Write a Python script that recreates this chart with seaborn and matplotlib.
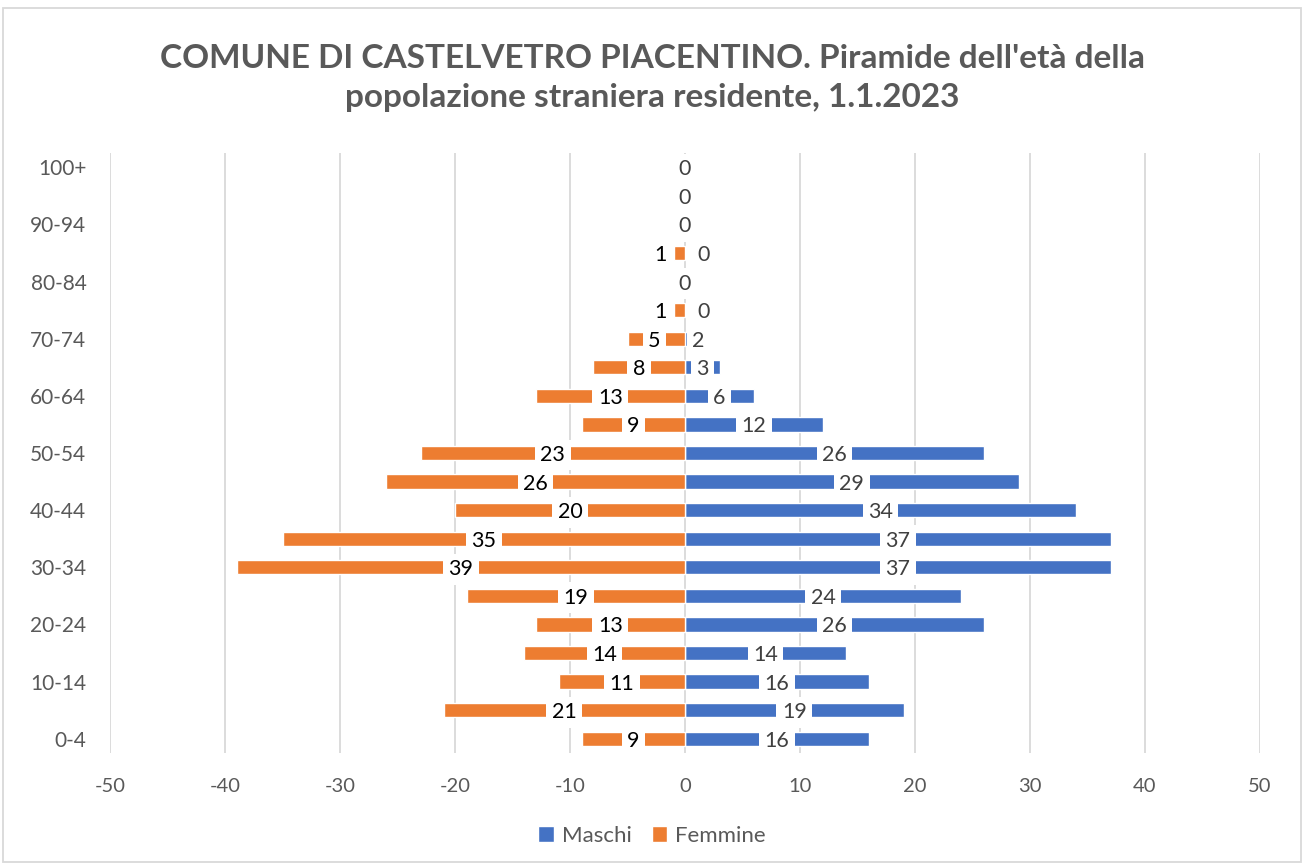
import matplotlib
matplotlib.use("Agg")
import matplotlib.pyplot as plt
import seaborn as sns
import pandas as pd
from matplotlib.patches import Rectangle, Patch

age_groups = ["0-4", "5-9", "10-14", "15-19", "20-24", "25-29", "30-34", "35-39",
              "40-44", "45-49", "50-54", "55-59", "60-64", "65-69", "70-74", "75-79",
              "80-84", "85-89", "90-94", "95-99", "100+"]
maschi = [16, 19, 16, 14, 26, 24, 37, 37, 34, 29, 26, 12, 6, 3, 2, 0, 0, 0, 0, 0, 0]
femmine = [9, 21, 11, 14, 13, 19, 39, 35, 20, 26, 23, 9, 13, 8, 5, 1, 0, 1, 0, 0, 0]
x_ticks = [-50, -40, -30, -20, -10, 0, 10, 20, 30, 40, 50]

title = "COMUNE DI CASTELVETRO PIACENTINO. Piramide dell'età della\npopolazione straniera residente, 1.1.2023"

BLUE = "#4472C4"
ORANGE = "#ED7D31"
GRAY = "#595959"

sns.set_theme(style="white")
plt.rcParams["font.family"] = ["Lato", "DejaVu Sans"]

order = age_groups[::-1]
df = pd.DataFrame({
    "age": age_groups * 2,
    "value": maschi + [-v for v in femmine],
    "sex": ["Maschi"] * len(age_groups) + ["Femmine"] * len(age_groups),
})

fig = plt.figure(figsize=(13.04, 8.65), dpi=100)
ax = fig.add_axes([110 / 1304, 1 - 753 / 865, 1150 / 1304, 600 / 865])

# grid lines
for t in x_ticks:
    ax.axvline(t, color="#D9D9D9", lw=1.3, zorder=0)

sns.barplot(data=df, x="value", y="age", hue="sex", order=order,
            hue_order=["Maschi", "Femmine"], palette=[BLUE, ORANGE],
            dodge=False, width=0.5, orient="h", ax=ax, legend=False,
            saturation=1, zorder=2)

ax.set_xlim(-50, 50)
ax.set_ylim(len(order) - 0.5, -0.5)
ax.set_xticks(x_ticks)
ax.set_xticklabels([str(t) for t in x_ticks], fontsize=14.5, color=GRAY)
ax.set_yticks(range(len(order)))
ax.set_yticklabels([lab if (len(order) - 1 - i) % 2 == 0 else "" for i, lab in enumerate(order)],
                   fontsize=15, color=GRAY)
ax.tick_params(axis="both", length=0)
ax.tick_params(axis="x", pad=18)
ax.tick_params(axis="y", pad=17)
ax.set_xlabel("")
ax.set_ylabel("")
for s in ax.spines.values():
    s.set_visible(False)

# data labels
min_gap = 3.8
bbox = dict(boxstyle="square,pad=0.25", fc="white", ec="none")
for age, m, f in zip(age_groups, maschi, femmine):
    y = order.index(age)
    cm, cf = m / 2, -f / 2
    if (m != 0 or f != 0) and cm - cf < min_gap:
        mid = (cm + cf) / 2
        cm, cf = mid + min_gap / 2, mid - min_gap / 2
    ax.text(cf, y, str(f), ha="center", va="center_baseline", fontsize=15.5, color="black",
            bbox=bbox, zorder=4)
    ax.text(cm, y, str(m), ha="center", va="center_baseline", fontsize=15.5, color="#404040",
            bbox=bbox, zorder=5)

fig.text(0.5, 1 - 78 / 865, title, ha="center", va="center", fontsize=24,
         fontweight="bold", color=GRAY, linespacing=1.38)

handles = [Patch(facecolor=BLUE, label="Maschi"), Patch(facecolor=ORANGE, label="Femmine")]
fig.legend(handles=handles, loc="center", bbox_to_anchor=(0.5, 1 - 836 / 865), ncol=2,
           frameon=False, fontsize=16, labelcolor=GRAY, handlelength=0.7,
           handleheight=0.7, handletextpad=0.35, columnspacing=0.9)

fig.patches.append(Rectangle((3 / 1304, 3 / 865), 1 - 6 / 1304, 1 - 11 / 865,
                             transform=fig.transFigure, fill=False, ec="#D9D9D9", lw=1.3))

fig.savefig("out.png", dpi=100)
